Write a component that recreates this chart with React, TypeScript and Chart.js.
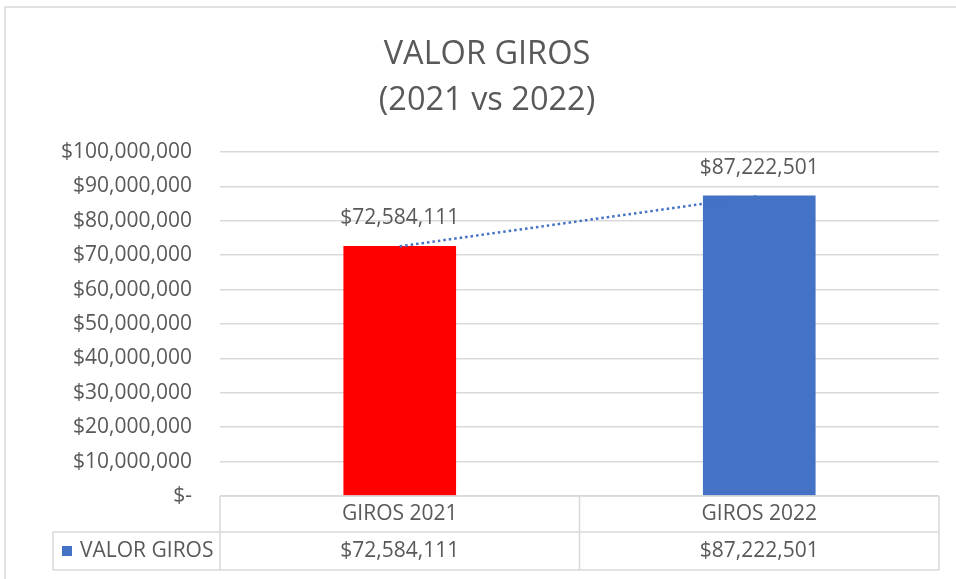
import React, { useEffect, useRef } from "react";
import { Chart, registerables } from "chart.js";

Chart.register(...registerables);

const titleLines = ["VALOR GIROS", "(2021 vs 2022)"];
const categories = ["GIROS 2021", "GIROS 2022"];
const seriesName = "VALOR GIROS";
const values = [72584111, 87222501];
const barColors = ["#FF0000", "#4472C4"];
const seriesColor = "#4472C4";
const yMin = 0;
const yMax = 100000000;
const yStep = 10000000;

const FONT = "'Open Sans', 'Noto Sans', sans-serif";
const TEXT = "#595959";
const GRID = "#d9d9d9";
const BODY = 21;

const money = (v: number) => (v === 0 ? "$-" : "$" + v.toLocaleString("en-US"));

const framePlugin = {
  id: "frame",
  beforeDraw(chart: any) {
    const ctx = chart.ctx;
    ctx.save();
    ctx.fillStyle = "#ffffff";
    ctx.fillRect(0, 0, chart.width, chart.height);
    ctx.strokeStyle = GRID;
    ctx.lineWidth = 1.5;
    ctx.beginPath();
    ctx.moveTo(5, chart.height + 5);
    ctx.lineTo(5, 7);
    ctx.lineTo(chart.width + 5, 7);
    ctx.stroke();
    ctx.fillStyle = TEXT;
    ctx.font = `32.5px ${FONT}`;
    ctx.textAlign = "center";
    ctx.textBaseline = "alphabetic";
    ctx.fillText(titleLines[0], 487, 64);
    ctx.fillText(titleLines[1], 487, 110);
    ctx.restore();
  },
};

const labelsPlugin = {
  id: "barLabels",
  afterDatasetsDraw(chart: any) {
    const ctx = chart.ctx;
    const meta = chart.getDatasetMeta(1);
    ctx.save();
    ctx.fillStyle = TEXT;
    ctx.font = `${BODY}px ${FONT}`;
    ctx.textAlign = "center";
    ctx.textBaseline = "middle";
    meta.data.forEach((el: any, i: number) => {
      ctx.fillText(money(values[i]), el.x, el.y - 28);
    });
    ctx.restore();
  },
};

const tablePlugin = {
  id: "dataTable",
  afterDraw(chart: any) {
    const ctx = chart.ctx;
    const area = chart.chartArea;
    const xs = chart.scales.x;
    const left = area.left;
    const right = area.right;
    const top = area.bottom;
    const mid = top + 36;
    const bottom = top + 74;
    const legendLeft = 53;
    const n = categories.length;
    const colW = (right - left) / n;
    ctx.save();
    ctx.strokeStyle = GRID;
    ctx.lineWidth = 1.5;
    ctx.beginPath();
    ctx.moveTo(left, top);
    ctx.lineTo(right, top);
    ctx.moveTo(legendLeft, mid);
    ctx.lineTo(right, mid);
    ctx.moveTo(legendLeft, bottom);
    ctx.lineTo(right, bottom);
    ctx.moveTo(legendLeft, mid);
    ctx.lineTo(legendLeft, bottom);
    for (let i = 0; i <= n; i++) {
      const x = left + colW * i;
      ctx.moveTo(x, top);
      ctx.lineTo(x, bottom);
    }
    ctx.stroke();

    ctx.fillStyle = TEXT;
    ctx.font = `${BODY}px ${FONT}`;
    ctx.textAlign = "center";
    ctx.textBaseline = "middle";
    categories.forEach((c, i) => {
      const cx = xs.getPixelForValue(i);
      ctx.fillText(c, cx, (top + mid) / 2);
      ctx.fillText(money(values[i]), cx, (mid + bottom) / 2);
    });
    ctx.fillStyle = seriesColor;
    ctx.fillRect(62, (mid + bottom) / 2 - 5, 10, 10);
    ctx.fillStyle = TEXT;
    ctx.textAlign = "left";
    ctx.fillText(seriesName, 80, (mid + bottom) / 2);
    ctx.restore();
  },
};

export default function App() {
  const ref = useRef<HTMLCanvasElement | null>(null);
  useEffect(() => {
    if (!ref.current) return;
    const chart = new Chart(ref.current, {
      data: {
        labels: categories,
        datasets: [
          {
            type: "line" as const,
            label: "trend",
            data: values,
            borderColor: seriesColor,
            borderWidth: 2.5,
            borderDash: [2.5, 3],
            pointRadius: 0,
            fill: false,
            order: 0,
          },
          {
            type: "bar" as const,
            label: seriesName,
            data: values,
            backgroundColor: barColors,
            borderWidth: 0,
            barThickness: 112,
            order: 1,
          },
        ],
      },
      options: {
        animation: false,
        responsive: false,
        maintainAspectRatio: false,
        layout: { padding: { left: 0, right: 17, top: 152, bottom: 83 } },
        plugins: {
          legend: { display: false },
          title: { display: false },
          tooltip: { enabled: false },
        },
        scales: {
          x: { display: false, offset: true },
          y: {
            min: yMin,
            max: yMax,
            afterFit: (s: any) => {
              s.width = 220;
            },
            border: { display: false },
            grid: { color: GRID, lineWidth: 1.5, drawTicks: false },
            ticks: {
              stepSize: yStep,
              padding: 28,
              color: TEXT,
              font: { family: FONT, size: BODY },
              callback: (v: any) => money(Number(v)),
            },
          },
        },
      },
      plugins: [framePlugin, labelsPlugin, tablePlugin],
    } as any);
    return () => chart.destroy();
  }, []);
  return (
    <div style={{ position: "fixed", left: 0, top: 0, width: 956, height: 579 }}>
      <canvas ref={ref} width={956} height={579} style={{ width: 956, height: 579 }} />
    </div>
  );
}
